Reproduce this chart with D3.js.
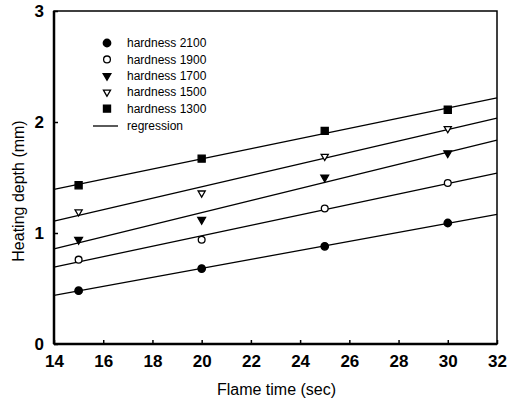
<!DOCTYPE html>
<html>
<head>
<meta charset="utf-8">
<script src="https://cdn.jsdelivr.net/npm/d3@7"></script>
<style>
  body { margin: 0; background: #fff; }
  text { font-family: "Liberation Sans", Arial, sans-serif; fill: #000; }
</style>
</head>
<body>
<div id="chart"></div>
<script>
const flameTimes = [15, 20, 25, 30];
const seriesNames = ["hardness 2100", "hardness 1900", "hardness 1700", "hardness 1500", "hardness 1300"];
const depth2100 = [0.48, 0.68, 0.88, 1.09];
const depth1900 = [0.76, 0.94, 1.22, 1.45];
const depth1700 = [0.94, 1.12, 1.50, 1.72];
const depth1500 = [1.19, 1.36, 1.69, 1.94];
const depth1300 = [1.43, 1.67, 1.92, 2.11];
const xTicks = [14, 16, 18, 20, 22, 24, 26, 28, 30, 32];
const yTicks = [0, 1, 2, 3];

const series = [depth2100, depth1900, depth1700, depth1500, depth1300];
const symbols = [
  { type: d3.symbolCircle, fill: "#000", size: 44 },
  { type: d3.symbolCircle, fill: "#fff", size: 36 },
  { type: d3.symbolTriangle, fill: "#000", size: 26, flip: true },
  { type: d3.symbolTriangle, fill: "#fff", size: 22, flip: true },
  { type: d3.symbolSquare, fill: "#000", size: 50 }
];

const width = 508, height = 409;
const margin = { top: 11, right: 11, bottom: 65, left: 54 };

const svg = d3.select("#chart").append("svg")
  .attr("width", width)
  .attr("height", height);

const x = d3.scaleLinear().domain([14, 32]).range([margin.left, width - margin.right]);
const y = d3.scaleLinear().domain([0, 3]).range([height - margin.bottom, margin.top]);

// least squares fit of each series
function fit(ys) {
  const mx = d3.mean(flameTimes), my = d3.mean(ys);
  let sxy = 0, sxx = 0;
  flameTimes.forEach((t, i) => { sxy += (t - mx) * (ys[i] - my); sxx += (t - mx) ** 2; });
  const b = sxy / sxx;
  return t => my + b * (t - mx);
}

// regression lines
series.forEach(ys => {
  const f = fit(ys);
  svg.append("line")
    .attr("x1", x(14)).attr("y1", y(f(14)))
    .attr("x2", x(32)).attr("y2", y(f(32)))
    .attr("stroke", "#000")
    .attr("stroke-width", 1.3);
});

// points
series.forEach((ys, s) => {
  const sym = symbols[s];
  svg.append("g").selectAll("path")
    .data(ys)
    .join("path")
      .attr("d", d3.symbol(sym.type, sym.size))
      .attr("transform", (d, i) => `translate(${x(flameTimes[i])},${y(d)})${sym.flip ? " rotate(180)" : ""}`)
      .attr("fill", sym.fill)
      .attr("stroke", "#000")
      .attr("stroke-width", 1.3);
});

// frame
const x0 = x(14), x1 = x(32), y0 = y(0), y1 = y(3);
svg.append("rect")
  .attr("x", x0).attr("y", y1)
  .attr("width", x1 - x0).attr("height", y0 - y1)
  .attr("fill", "none")
  .attr("stroke", "#000")
  .attr("stroke-width", 1.5);
svg.append("line").attr("x1", x0).attr("x2", x1).attr("y1", y0).attr("y2", y0)
  .attr("stroke", "#000").attr("stroke-width", 2.5);
svg.append("line").attr("x1", x0).attr("x2", x0).attr("y1", y0).attr("y2", y1)
  .attr("stroke", "#000").attr("stroke-width", 2.5);

// axes, ticks inside
const xAxis = svg.append("g")
  .attr("transform", `translate(0,${y0})`)
  .call(d3.axisBottom(x).tickValues(xTicks).tickFormat(d3.format("d"))
    .tickSizeInner(-4).tickSizeOuter(0).tickPadding(11));
const yAxis = svg.append("g")
  .attr("transform", `translate(${x0},0)`)
  .call(d3.axisLeft(y).tickValues(yTicks).tickFormat(d3.format("d"))
    .tickSizeInner(-4).tickSizeOuter(0).tickPadding(10));
[xAxis, yAxis].forEach(g => {
  g.select(".domain").remove();
  g.selectAll("line").attr("stroke", "#000").attr("stroke-width", 1.5);
  g.selectAll("text")
    .style("font-family", "'Liberation Sans', Arial, sans-serif")
    .style("font-size", "17px")
    .style("font-weight", "bold")
    .attr("fill", "#000");
});

// titles
svg.append("text")
  .attr("x", (x0 + x1) / 2 + 1)
  .attr("y", 395)
  .attr("text-anchor", "middle")
  .style("font-size", "16px")
  .text("Flame time (sec)");
svg.append("text")
  .attr("transform", `translate(24,191) rotate(-90)`)
  .attr("text-anchor", "middle")
  .style("font-size", "16px")
  .text("Heating depth (mm)");

// legend
const legend = svg.append("g").attr("transform", "translate(107,43)");
seriesNames.forEach((name, s) => {
  const sym = symbols[s];
  const row = legend.append("g").attr("transform", `translate(0,${s * 16.4})`);
  row.append("path")
    .attr("d", d3.symbol(sym.type, sym.size))
    .attr("transform", sym.flip ? "rotate(180)" : null)
    .attr("fill", sym.fill)
    .attr("stroke", "#000")
    .attr("stroke-width", 1.3);
  row.append("text")
    .attr("x", 20).attr("dy", "0.35em")
    .style("font-size", "12px")
    .text(name);
});
const reg = legend.append("g").attr("transform", `translate(0,${5 * 16.4 + 1})`);
reg.append("line").attr("x1", -14).attr("x2", 11).attr("stroke", "#000").attr("stroke-width", 1.3);
reg.append("text").attr("x", 20).attr("dy", "0.35em").style("font-size", "12px").text("regression");
</script>
</body>
</html>
